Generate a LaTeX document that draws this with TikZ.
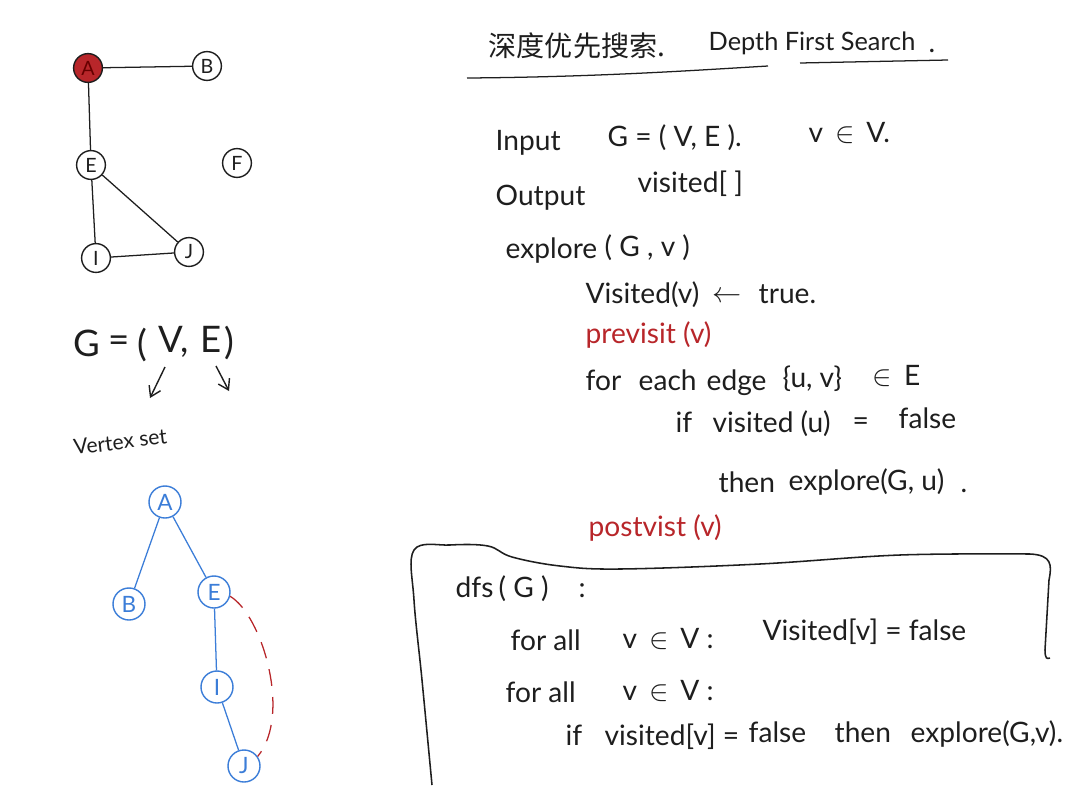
\documentclass[tikz,border=0pt]{standalone}
\usepackage{fontspec}
\setmainfont{Lato}
\newfontfamily\cjk{Noto Sans CJK SC}
\usetikzlibrary{arrows.meta}
\definecolor{ink}{HTML}{1E1E1E}
\definecolor{redink}{HTML}{B8262A}
\definecolor{blueink}{HTML}{3B7DD8}
\begin{document}
\begin{tikzpicture}[x=0.025cm,y=-0.025cm,line width=1pt,
  txt/.style={anchor=base west,inner sep=0pt,text=ink,font=\fontsize{20}{22}\selectfont},
  bigtxt/.style={txt,font=\fontsize{26}{28}\selectfont},
  gnode/.style={circle,draw=ink,line width=1pt,minimum size=0.72cm,inner sep=0pt,text=ink,font=\fontsize{14}{15}\selectfont},
  bnode/.style={circle,draw=blueink,line width=1pt,minimum size=0.8cm,inner sep=0pt,text=blueink,font=\fontsize{16}{17}\selectfont},
  gedge/.style={draw=ink,line width=0.9pt},
  bedge/.style={draw=blueink,line width=0.9pt},
  redge/.style={draw=redink,line width=0.9pt,dash pattern=on 12pt off 8pt},
  harrow/.style={draw=ink,line width=1pt,-{Straight Barb[length=7pt,width=9pt]}}]
\useasboundingbox[fill=white] (0,0) rectangle (1074,790);

% ---------- top-left graph ----------
\node[gnode,fill=redink,text=red!40!black] (ga) at (88,68) {A};
\node[gnode] (gb) at (207,66) {B};
\node[gnode] (ge) at (91,165) {E};
\node[gnode] (gf) at (237,163) {F};
\node[gnode] (gi) at (96,258) {I};
\node[gnode] (gj) at (189,252) {J};
\draw[gedge] (ga) -- (gb);
\draw[gedge] (ga) -- (ge);
\draw[gedge] (ge) -- (gi);
\draw[gedge] (ge) -- (gj);
\draw[gedge] (gi) -- (gj);

% ---------- G = (V, E) ----------
\node[bigtxt] (gG) at (73,356) {G};
\node[bigtxt] (gEq) at (108,352) {=};
\node[bigtxt] (gLp) at (137,356) {(};
\node[bigtxt] (gV) at (158,352) {V,};
\node[bigtxt] (gE) at (200,352) {E};
\node[bigtxt] (gRp) at (224,354) {)};
\coordinate (av0) at (165,367);
\coordinate (av1) at (150,398);
\coordinate (ae0) at (216,366);
\coordinate (ae1) at (229,391);
\draw[harrow] (av0) -- (av1);
\draw[harrow] (ae0) -- (ae1);
\node[txt,font=\fontsize{15}{17}\selectfont,rotate=7] (vset) at (74,455) {Vertex set};

% ---------- blue DFS tree ----------
\node[bnode] (ba) at (165,502) {A};
\node[bnode] (bb) at (129,604) {B};
\node[bnode] (be) at (214,592) {E};
\node[bnode] (bi) at (217,687) {I};
\node[bnode] (bj) at (244,766) {J};
\draw[bedge] (ba) -- (bb);
\draw[bedge] (ba) -- (be);
\draw[bedge] (be) -- (bi);
\draw[bedge] (bi) -- (bj);
\draw[redge] (be.-15) .. controls (262,615) and (292,715) .. (bj.35);

% ---------- title ----------
\node[txt,font=\cjk\fontsize{20}{24}\selectfont] (cn) at (488,56) {深度优先搜索.};
\node[txt,font=\fontsize{18}{20}\selectfont] (en) at (708,50) {Depth First Search};
\node[txt] (endot) at (928,52) {.};
\coordinate (u1a) at (467,78);
\coordinate (u1b) at (768,66);
\coordinate (u2a) at (800,63);
\coordinate (u2b) at (948,60);
\draw[gedge] (u1a) .. controls (600,77) and (700,70) .. (u1b);
\draw[gedge] (u2a) -- (u2b);

% ---------- explore ----------
\node[txt] (input) at (495,150) {Input};
\node[txt] (gdef2) at (607,146) {G = ( V, E ).};
\node[txt] (vin) at (808,142) {v \,$\in$\, V.};
\node[txt] (output) at (495,205) {Output};
\node[txt] (visarr) at (637,192) {visited[ ]};
\node[txt] (explore) at (505,258) {explore};
\node[txt] (exploreargs) at (604,256) {( G , v )};
\node[txt] (settrue) at (585,303) {Visited(v)};
\node[txt] (larrow) at (712,302) {$\leftarrow$};
\node[txt] (truew) at (758,303) {true.};
\node[txt,text=redink] (previsit) at (585,343) {previsit (v)};
\node[txt] (forw) at (585,390) {for};
\node[txt] (eachw) at (638,390) {each};
\node[txt] (edgew) at (706,390) {edge};
\node[txt] (uvset) at (782,387) {\{u, v\}};
\node[txt] (inE) at (872,385) {$\in$\, E};
\node[txt] (ifw) at (675,432) {if};
\node[txt] (visu) at (712,432) {visited (u)};
\node[txt] (eqw) at (852,430) {=};
\node[txt] (falsew) at (898,428) {false};
\node[txt] (then) at (718,492) {then};
\node[txt] (exploreu) at (788,490) {explore(G, u)};
\node[txt] (dotu) at (960,492) {.};
\node[txt,text=redink] (postvisit) at (588,536) {postvist (v)};

% ---------- dfs box ----------
\draw[gedge,line width=1.1pt] plot[smooth,tension=0.6] coordinates {(432,785) (422,680) (414,600) (414,550) (450,545) (488,546) (512,557) (560,566) (620,569) (760,564) (900,555) (1030,554)}
  .. controls (1052,555) and (1052,565) .. (1049,580) -- (1045,650) .. controls (1045,659) and (1047,659) .. (1050,658);
\node[txt] (dfs) at (455,597) {dfs};
\node[txt] (dfsargs) at (498,597) {( G )};
\node[txt] (dfscolon) at (578,597) {:};
\node[txt] (forall1) at (510,650) {for all};
\node[txt] (vinV1) at (622,648) {v \,$\in$\, V :};
\node[txt] (visf) at (762,640) {Visited[v] = false};
\node[txt] (forall2) at (505,702) {for all};
\node[txt] (vinV2) at (622,700) {v \,$\in$\, V :};
\node[txt] (ifvis2) at (565,745) {if};
\node[txt] (visv2) at (604,745) {visited[v] =};
\node[txt] (false2) at (748,742) {false};
\node[txt] (then2) at (834,742) {then};
\node[txt] (explore2) at (910,742) {explore(G,v).};
\end{tikzpicture}
\end{document}
